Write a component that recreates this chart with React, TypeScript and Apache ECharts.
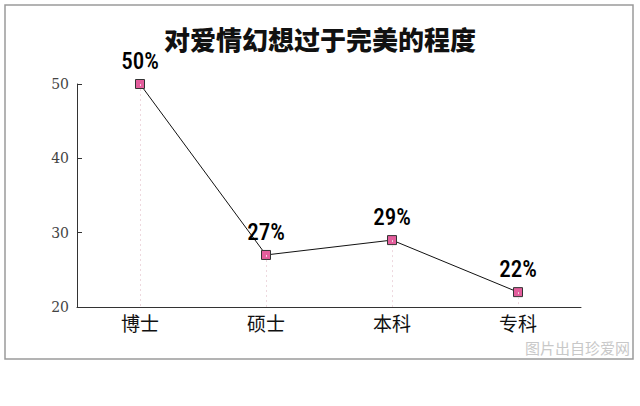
import React, { useEffect, useRef } from "react";
import * as echarts from "echarts";

const categories = ["博士", "硕士", "本科", "专科"];
const values = [50, 27, 29, 22];
const labelTexts = ["50%", "27%", "29%", "22%"];
const titleText = "对爱情幻想过于完美的程度";
const watermark = "图片出自珍爱网";
const yMin = 20;
const yMax = 50;

export default function App() {
  const ref = useRef<HTMLDivElement>(null);
  useEffect(() => {
    document.body.style.margin = "0";
    const chart = echarts.init(ref.current!, null, { renderer: "svg" });
    chart.setOption({
      animation: false,
      backgroundColor: "#fff",
      title: {
        text: titleText,
        left: "center",
        top: 20,
        textStyle: {
          fontFamily: "Noto Sans CJK SC",
          fontWeight: 900,
          fontSize: 26,
          color: "#111",
        },
      },
      graphic: [
        {
          type: "rect",
          shape: { x: 5, y: 5, width: 628, height: 354 },
          style: { fill: "none", stroke: "#9a9a9a", lineWidth: 1.5 },
          silent: true,
        },
        {
          type: "text",
          right: 10,
          top: 340,
          style: {
            text: watermark,
            fontFamily: "Noto Sans CJK SC",
            fontSize: 15,
            fill: "#c8c8c8",
          },
          silent: true,
        },
      ],
      grid: { left: 77, right: 59, top: 84, bottom: 99 },
      xAxis: {
        type: "category",
        data: categories,
        boundaryGap: true,
        axisLine: { lineStyle: { color: "#333", width: 1 } },
        axisTick: { inside: true, length: 5, lineStyle: { color: "#333" } },
        axisLabel: {
          fontFamily: "Noto Sans CJK SC",
          fontSize: 19,
          color: "#111",
          margin: 6,
        },
        splitLine: { show: false },
      },
      yAxis: {
        type: "value",
        min: yMin,
        max: yMax,
        interval: 10,
        axisLine: { show: true, lineStyle: { color: "#333", width: 1 } },
        axisTick: { show: true, inside: true, length: 5, lineStyle: { color: "#333" } },
        axisLabel: {
          fontFamily: "DejaVu Serif",
          fontSize: 14,
          color: "#444",
          margin: 8,
        },
        splitLine: { show: false },
      },
      series: [
        {
          type: "line",
          data: values,
          symbol: "rect",
          symbolSize: 9,
          lineStyle: { color: "#111", width: 1 },
          itemStyle: { color: "#e35d9c", borderColor: "#333", borderWidth: 1 },
          label: {
            show: true,
            position: "top",
            distance: 6,
            formatter: (p: any) => labelTexts[p.dataIndex],
            fontFamily: "Roboto Condensed, Liberation Sans Narrow, DejaVu Sans Condensed, Roboto",
            fontSize: 23,
            fontWeight: 500,
            color: "#000",
          },
          markLine: {
            silent: true,
            symbol: "none",
            label: { show: false },
            lineStyle: { color: "#eed8de", type: [2, 3], width: 1 },
            data: values.map((v, i) => [
              { coord: [i, v] },
              { coord: [i, yMin] },
            ]),
          },
          z: 3,
        },
      ],
    });
    return () => chart.dispose();
  }, []);
  return (
    <div
      ref={ref}
      style={{ position: "absolute", left: 0, top: 0, width: 640, height: 406 }}
    />
  );
}
